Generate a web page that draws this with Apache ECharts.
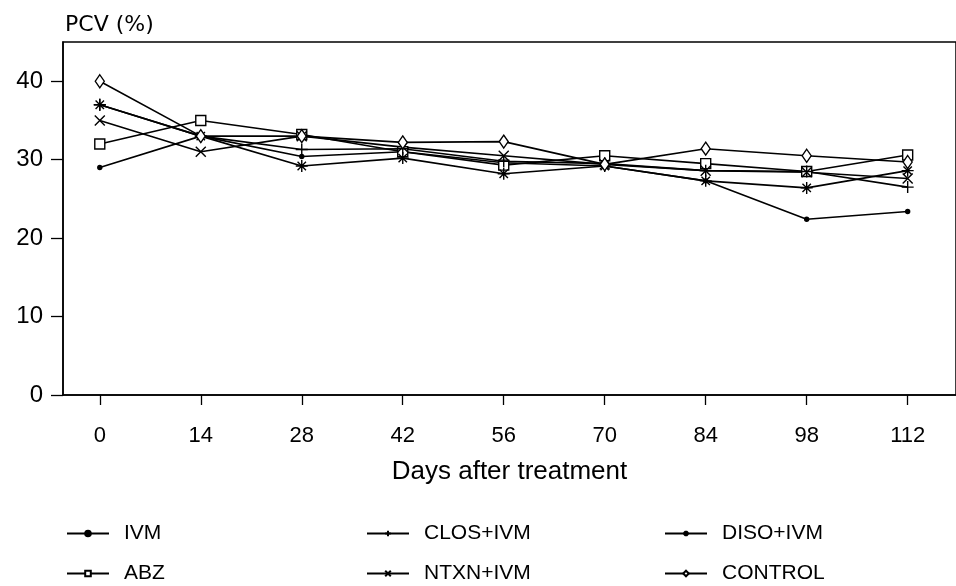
<!DOCTYPE html>
<html>
<head>
<meta charset="utf-8">
<script src="https://cdn.jsdelivr.net/npm/echarts@6/dist/echarts.min.js"></script>
<style>
  html, body { margin: 0; padding: 0; background: #fff; }
  #chart { width: 956px; height: 586px; }
</style>
</head>
<body>
<div id="chart"></div>
<script>
const days = [0, 14, 28, 42, 56, 70, 84, 98, 112];
const yTicks = [0, 10, 20, 30, 40];

const ivm = [29, 33, 30.4, 31, 29.6, 29.2, 27.3, 22.4, 23.4];
const closIvm = [37, 33, 31.3, 31.4, 29.8, 29.5, 28.6, 28.5, 26.5];
const disoIvm = [37, 33, 29.2, 30.2, 28.2, 29.2, 27.3, 26.4, 28.6];
const abz = [32, 35, 33.2, 31, 29.3, 30.5, 29.5, 28.5, 30.6];
const ntxnIvm = [35, 31, 33, 31.6, 30.5, 29.4, 28.6, 28.4, 27.6];
const control = [40, 33, 33, 32.2, 32.3, 29.4, 31.4, 30.5, 29.7];

const font = 'Liberation Sans, Arial, sans-serif';

const symbols = {
  dot: 'circle',
  plus: 'path://M5 0V10M0 5H10',
  star: 'path://M5 0V10M0 5H10M1.5 1.5L8.5 8.5M8.5 1.5L1.5 8.5',
  square: 'rect',
  cross: 'path://M0 0L10 10M10 0L0 10',
  diamond: 'diamond',
};

function makeSeries(name, values, symbol, size, filled) {
  return {
    name: name,
    type: 'line',
    data: values.map((v, i) => [days[i], v]),
    symbol: symbol,
    symbolSize: size,
    showSymbol: true,
    lineStyle: { color: '#000', width: 1.6 },
    itemStyle: {
      color: filled ? '#000' : '#fff',
      borderColor: '#000',
      borderWidth: 1.4,
    },
    emphasis: { disabled: true },
    animation: false,
  };
}

// one legend per entry, laid out as 3 columns x 2 rows
function legendAt(name, left, top) {
  return {
    data: [name],
    left: left,
    top: top,
    padding: 0,
    itemWidth: 42,
    itemHeight: 7,
    textStyle: { fontFamily: font, fontSize: 21, color: '#000', padding: [0, 0, 0, 10] },
    selectedMode: false,
  };
}

const chart = echarts.init(document.getElementById('chart'), null, { renderer: 'canvas' });

chart.setOption({
  backgroundColor: '#fff',
  animation: false,
  title: {
    text: 'PCV (%)',
    left: 60,
    top: 9,
    textStyle: { fontFamily: 'DejaVu Sans, sans-serif', fontSize: 22, fontWeight: 'normal', color: '#000' },
  },
  grid: {
    left: 63,
    right: 0,
    top: 42,
    bottom: 191,
    show: true,
    borderColor: '#000',
    borderWidth: 1.5,
    backgroundColor: 'transparent',
  },
  legend: [
    legendAt('IVM', 66, 523),
    legendAt('ABZ', 66, 563),
    legendAt('CLOS+IVM', 366, 523),
    legendAt('NTXN+IVM', 366, 563),
    legendAt('DISO+IVM', 664, 523),
    legendAt('CONTROL', 664, 563),
  ],
  xAxis: {
    type: 'value',
    min: -5.1,
    max: 118.7,
    name: 'Days after treatment',
    nameLocation: 'middle',
    nameGap: 64,
    nameTextStyle: { fontFamily: font, fontSize: 26, color: '#000' },
    axisLine: { show: true, lineStyle: { color: '#000', width: 1.5 } },
    axisTick: { show: true, length: 10, customValues: days, lineStyle: { color: '#000', width: 1.3 } },
    axisLabel: { customValues: days, margin: 30, fontFamily: font, fontSize: 22, color: '#000' },
    splitLine: { show: false },
  },
  yAxis: {
    type: 'value',
    min: 0,
    max: 45,
    axisLine: { show: true, onZero: false, lineStyle: { color: '#000', width: 1.5 } },
    axisTick: { show: true, length: 12, customValues: yTicks, lineStyle: { color: '#000', width: 1.3 } },
    axisLabel: { customValues: yTicks, margin: 20, fontFamily: font, fontSize: 24, color: '#000' },
    splitLine: { show: false },
  },
  series: [
    makeSeries('IVM', ivm, symbols.dot, 4, true),
    makeSeries('ABZ', abz, symbols.square, 10, false),
    makeSeries('CLOS+IVM', closIvm, symbols.plus, 12, false),
    makeSeries('NTXN+IVM', ntxnIvm, symbols.cross, 10, false),
    makeSeries('DISO+IVM', disoIvm, symbols.star, 12, false),
    makeSeries('CONTROL', control, symbols.diamond, [9, 13], false),
  ],
});
</script>
</body>
</html>
